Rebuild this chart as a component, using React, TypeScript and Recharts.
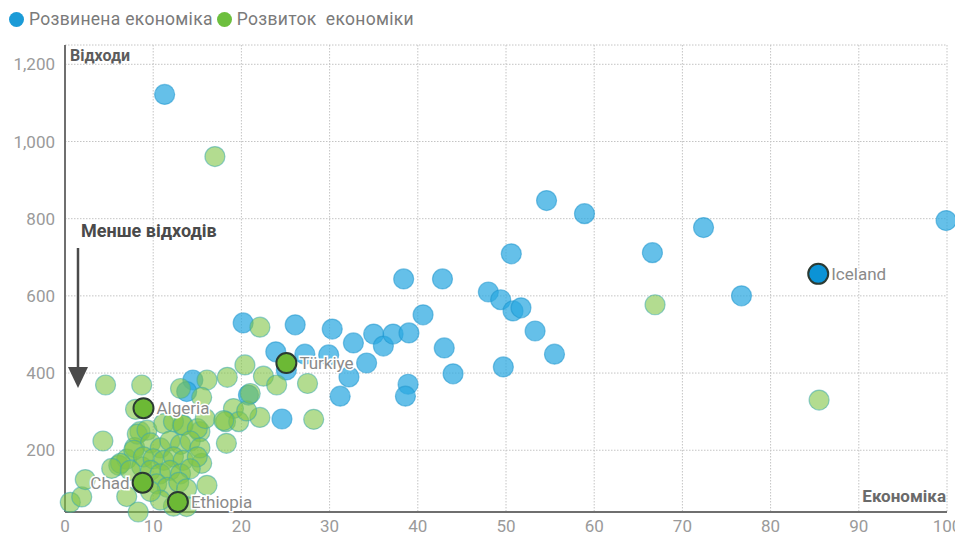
import { ScatterChart, Scatter, XAxis, YAxis, CartesianGrid } from 'recharts';

const xTicks = [0, 10, 20, 30, 40, 50, 60, 70, 80, 90, 100];
const yTicks = [200, 400, 600, 800, 1000, 1200];

// Розвинена економіка (blue)
const advancedEcon = [
  11.3, 54.6, 58.9, 72.4, 99.9, 66.6, 50.6, 76.7, 38.4, 42.8, 48.0, 49.4, 50.8, 51.7,
  40.6, 53.3, 55.5, 49.7, 43.0, 44.0, 38.9, 38.6, 31.2, 32.2, 34.2, 30.3, 26.1, 20.2,
  32.7, 35.0, 36.1, 37.2, 39.0, 24.6, 23.9, 27.2, 29.9, 25.1, 14.5, 13.8, 20.8,
];
const advancedWaste = [
  1122, 847, 813, 777, 795, 712, 709, 600, 644, 644, 610, 590, 561, 569,
  551, 509, 449, 416, 465, 398, 371, 340, 340, 390, 426, 514, 525, 530,
  478, 501, 470, 501, 504, 281, 455, 449, 447, 408, 382, 352, 343,
];

// Розвиток економіки (green)
const developingEcon = [
  17.0, 66.9, 85.5, 22.1, 20.4, 18.4, 16.1, 13.1, 22.5, 24.0, 27.5, 15.5, 19.1, 18.2,
  19.7, 22.1, 28.2, 18.3, 15.5, 15.3, 16.1, 13.3, 4.6, 8.7, 8.0, 4.3, 0.6, 1.9,
  2.3, 7.0, 8.3, 12.3, 6.1, 7.0, 8.5, 7.9, 8.7, 8.2, 9.3, 11.2, 12.3, 13.4,
  15.0, 15.9, 9.7, 10.8, 11.9, 13.1, 14.2, 15.3, 7.8, 8.9, 10.0, 11.2, 12.3, 13.4,
  15.0, 6.3, 5.3, 7.4, 9.7, 10.8, 11.9, 13.1, 14.2, 10.4, 11.6, 12.9, 13.8, 13.8,
  10.8, 9.7, 18.0, 20.6, 21.0,
];
const developingWaste = [
  961, 577, 330, 519, 421, 389, 382, 360, 392, 369, 373, 337, 308, 274,
  274, 285, 280, 218, 166, 248, 109, 265, 369, 369, 306, 224, 65, 79,
  124, 80, 40, 55, 161, 177, 248, 207, 157, 242, 252, 269, 274, 265,
  256, 282, 219, 206, 224, 215, 224, 206, 200, 183, 178, 174, 183, 174,
  183, 166, 153, 148, 148, 139, 148, 139, 152, 113, 104, 117, 100, 54,
  71, 93, 277, 302, 347,
];

const labelNames = ['Iceland', 'Türkiye', 'Algeria', 'Chad', 'Ethiopia'];
const labelEcon = [85.4, 25.1, 8.9, 8.8, 12.8];
const labelWaste = [657, 426, 309, 116, 66];
const labelGroup = ['advanced', 'developing', 'developing', 'developing', 'developing'];
const labelSide = ['right', 'right', 'right', 'left', 'right'];

const advancedData = advancedEcon.map((x, i) => ({ x, y: advancedWaste[i] }));
const developingData = developingEcon.map((x, i) => ({ x, y: developingWaste[i] }));
const labelledData = labelNames.map((name, i) => ({
  name,
  x: labelEcon[i],
  y: labelWaste[i],
  group: labelGroup[i],
  side: labelSide[i],
}));

const FONT = 'Roboto, sans-serif';

const dot = (fill: string, stroke: string) => (props: any) => (
  <circle cx={props.cx} cy={props.cy} r={10} fill={fill} stroke={stroke} strokeWidth={1.2} />
);

const labelledDot = (props: any) => {
  const { cx, cy, payload } = props;
  const adv = payload.group === 'advanced';
  const left = payload.side === 'left';
  return (
    <g>
      <circle cx={cx} cy={cy} r={10} fill={adv ? '#0b93d6' : '#6cb935'} stroke="#2b3a33" strokeWidth={2} />
      <text
        x={left ? cx - 13 : cx + 13}
        y={cy}
        dy="0.35em"
        textAnchor={left ? 'end' : 'start'}
        fontFamily={FONT}
        fontSize={17}
        fill="#8a8a8a"
        stroke="#fff"
        strokeWidth={3}
        paintOrder="stroke"
      >
        {payload.name}
      </text>
    </g>
  );
};

const tickStyle = { fontSize: 17, fill: '#9a9a9a', fontFamily: FONT };

export default function App() {
  return (
    <div style={{ position: 'relative', width: 955, height: 530, fontFamily: FONT }}>
      <div style={{ position: 'absolute', left: 1, top: 1, display: 'flex', alignItems: 'center', fontSize: 17.5, letterSpacing: 0.3, color: '#7a7a7a', height: 20 }}>
        <span style={{ width: 15, height: 15, borderRadius: '50%', background: '#1b9bd7', display: 'inline-block', marginRight: 5 }} />
        <span style={{ marginRight: 4 }}>Розвинена економіка</span>
        <span style={{ width: 15, height: 15, borderRadius: '50%', background: '#6dbf3e', display: 'inline-block', marginRight: 5 }} />
        <span style={{ whiteSpace: 'pre' }}>Розвиток  економіки</span>
      </div>

      <ScatterChart width={955} height={530} margin={{ top: 37, right: 16, bottom: 0, left: 0 }}>
        <CartesianGrid stroke="#c4c4c4" strokeDasharray="1.5 1.5" />
        <XAxis
          type="number"
          dataKey="x"
          domain={[0, 100]}
          ticks={xTicks}
          height={26}
          tickLine={false}
          tickSize={0}
          tickMargin={8}
          axisLine={{ stroke: '#6f6f6f', strokeWidth: 2 }}
          tick={tickStyle}
          interval={0}
        />
        <YAxis
          type="number"
          dataKey="y"
          domain={[40, 1250]}
          ticks={yTicks}
          width={57}
          tickLine={false}
          tickSize={0}
          tickMargin={10}
          axisLine={{ stroke: '#6f6f6f', strokeWidth: 2 }}
          tick={tickStyle}
          tickFormatter={(v: number) => v.toLocaleString('en-US')}
          interval={0}
        />
        <Scatter data={advancedData} shape={dot('rgba(41,168,224,0.72)', 'rgba(30,150,205,0.55)')} isAnimationActive={false} />
        <Scatter data={developingData} shape={dot('rgba(128,196,70,0.6)', 'rgba(60,170,170,0.55)')} isAnimationActive={false} />
        <Scatter data={labelledData} shape={labelledDot} isAnimationActive={false} />
      </ScatterChart>

      <div style={{ position: 'absolute', left: 62, top: 40, fontSize: 16, fontWeight: 700, color: '#5c5c5c', lineHeight: 1 }}>Відходи</div>
      <div style={{ position: 'absolute', right: 17, top: 480, fontSize: 17, fontWeight: 700, color: '#6a6a6a', lineHeight: 1 }}>Економіка</div>
      <div style={{ position: 'absolute', left: 73, top: 214, fontSize: 18, fontWeight: 700, color: '#4a4a4a', lineHeight: 1 }}>Менше відходів</div>
      <svg style={{ position: 'absolute', left: 58, top: 238 }} width={24} height={144}>
        <line x1={12} y1={2} x2={12} y2={124} stroke="#4a4a4a" strokeWidth={2.5} />
        <polygon points="2,121 22,121 12,142" fill="#4a4a4a" />
      </svg>
    </div>
  );
}
